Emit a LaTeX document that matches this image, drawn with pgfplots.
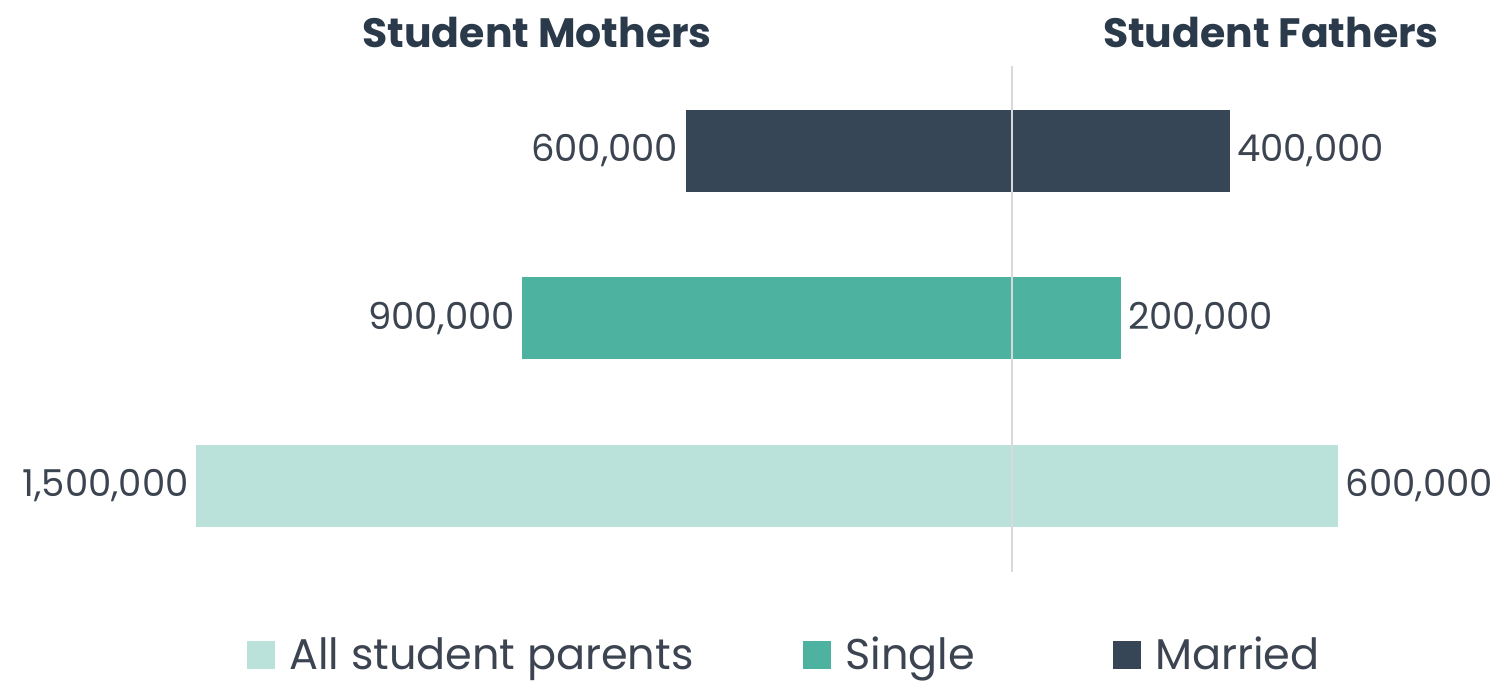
\documentclass[border=0pt]{standalone}
\usepackage{pgfplots}
\pgfplotsset{compat=1.18}
\usepackage{pgfplotstable}
\usepackage{fontspec}
\setmainfont{Poppins}
\definecolor{cdark}{HTML}{374656}
\definecolor{cteal}{HTML}{4DB2A0}
\definecolor{clight}{HTML}{BAE2DA}
\definecolor{ctext}{HTML}{3B4450}
\definecolor{ctitle}{HTML}{2B3A4A}
% Student mothers (left, negative) and student fathers (right, positive)
\pgfplotstableread{
x y lab
-1.5 0 1,500,000
-0.9 1 900,000
-0.6 2 600,000
}\mothers
\pgfplotstableread{
x y lab
0.6 0 600,000
0.2 1 200,000
0.4 2 400,000
}\fathers
\begin{document}
\begin{tikzpicture}
\begin{axis}[
  scale only axis,
  width=571.2pt, height=252.9pt,
  xmin=-1.5, xmax=0.6, ymin=-0.513, ymax=2.507,
  axis lines=none,
  clip=false,
  xbar, bar width=41pt, bar shift=0pt,
  point meta=explicit symbolic,
  every node near coord/.append style={font=\fontsize{18.5}{22}\selectfont, text=ctext, inner sep=3.5pt},
  legend columns=3,
  legend style={draw=none, fill=none, at={(0.516,-0.164)}, anchor=center,
    font=\fontsize{21.5}{26}\selectfont, text=ctext,
    nodes={inner ysep=6pt},
    /tikz/every odd column/.append style={column sep=5pt},
    /tikz/column 2/.style={column sep=53pt},
    /tikz/column 4/.style={column sep=67pt}},
  legend image code/.code={\fill[#1] (0pt,-7pt) rectangle (14pt,7pt);},
]
% All student parents
\addplot[fill=clight, draw=none, nodes near coords, every node near coord/.append style={anchor=east}]
  table[x=x, y=y, meta=lab, restrict expr to domain={\thisrow{y}}{0:0}] {\mothers};
\addlegendentry{All student parents}
\addplot[fill=cteal, draw=none, nodes near coords, every node near coord/.append style={anchor=east}]
  table[x=x, y=y, meta=lab, restrict expr to domain={\thisrow{y}}{1:1}] {\mothers};
\addlegendentry{Single}
\addplot[fill=cdark, draw=none, nodes near coords, every node near coord/.append style={anchor=east}]
  table[x=x, y=y, meta=lab, restrict expr to domain={\thisrow{y}}{2:2}] {\mothers};
\addlegendentry{Married}
\addplot[forget plot, fill=clight, draw=none, nodes near coords, every node near coord/.append style={anchor=west}]
  table[x=x, y=y, meta=lab, restrict expr to domain={\thisrow{y}}{0:0}] {\fathers};
\addplot[forget plot, fill=cteal, draw=none, nodes near coords, every node near coord/.append style={anchor=west}]
  table[x=x, y=y, meta=lab, restrict expr to domain={\thisrow{y}}{1:1}] {\fathers};
\addplot[forget plot, fill=cdark, draw=none, nodes near coords, every node near coord/.append style={anchor=west}]
  table[x=x, y=y, meta=lab, restrict expr to domain={\thisrow{y}}{2:2}] {\fathers};
\draw[color=black!15, line width=1pt] (axis cs:0,-0.513) -- (axis cs:0,2.507);
\node[font=\fontsize{20.5}{24}\selectfont\bfseries, text=ctitle] at (axis cs:-0.873,2.71) {Student Mothers};
\node[font=\fontsize{20.5}{24}\selectfont\bfseries, text=ctitle] at (axis cs:0.476,2.71) {Student Fathers};
\coordinate (TL) at (axis cs:-1.8603,2.9015);
\coordinate (BR) at (axis cs:0.8860,-1.1642);
\end{axis}
\pgfresetboundingbox
\path[use as bounding box] (TL) rectangle (BR);
\end{tikzpicture}
\end{document}
